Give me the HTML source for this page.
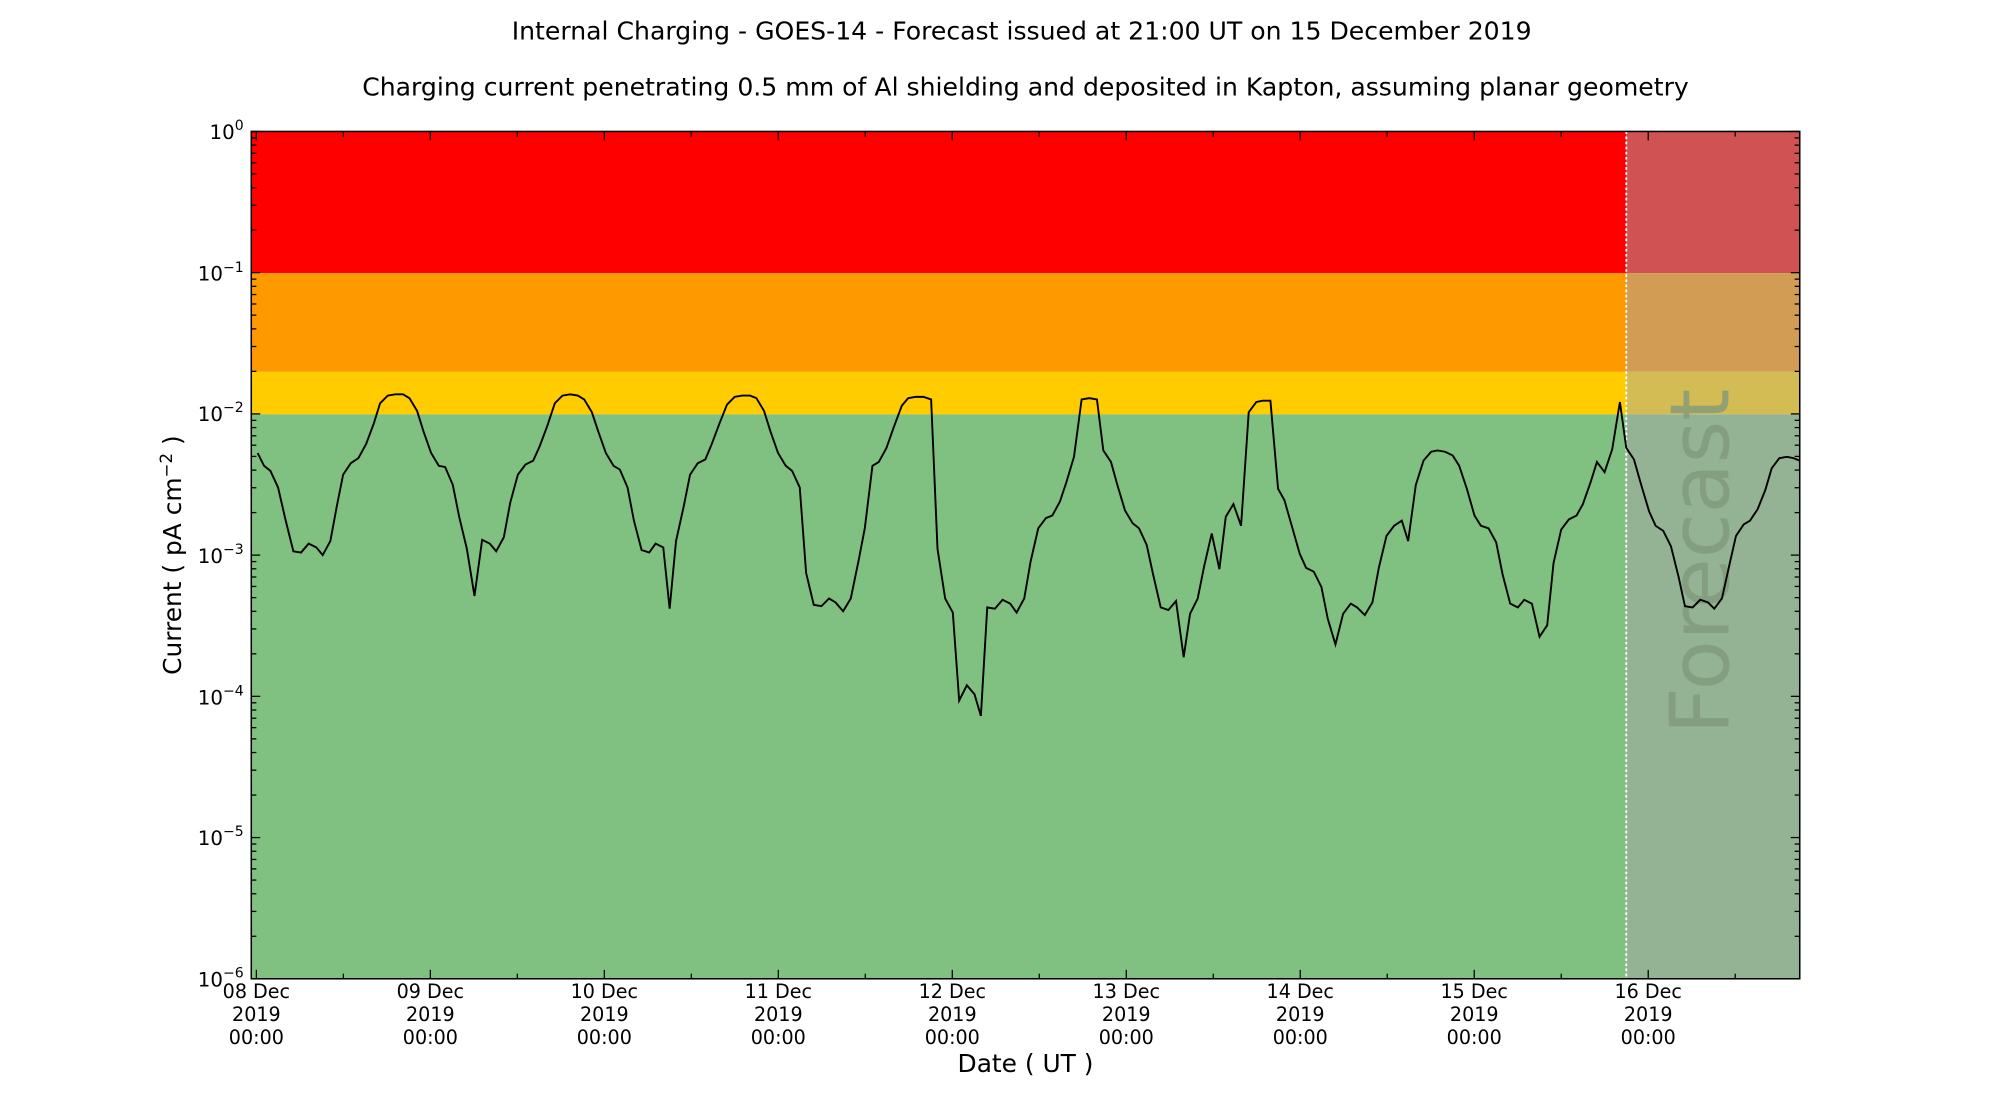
<!DOCTYPE html>
<html><head><meta charset="utf-8"><style>html,body{margin:0;padding:0;background:#fff}svg{display:block}</style></head><body>
<svg width="2000" height="1100" viewBox="0 0 1568 862" preserveAspectRatio="none" xmlns="http://www.w3.org/2000/svg" font-family="'DejaVu Sans','Liberation Sans',sans-serif">
<rect x="0" y="0" width="1568" height="862" fill="#fff"/>
<text x="801" y="31" font-size="19.7" text-anchor="middle">Internal Charging - GOES-14 - Forecast issued at 21:00 UT on 15 December 2019</text>
<text x="804" y="75" font-size="19.7" text-anchor="middle">Charging current penetrating 0.5 mm of Al shielding and deposited in Kapton, assuming planar geometry</text>
<rect x="197" y="103" width="1078" height="111" fill="#ff0000"/>
<rect x="197" y="214" width="1078" height="77.4" fill="#ff9900"/>
<rect x="197" y="291.4" width="1078" height="33.3" fill="#ffcc00"/>
<rect x="197" y="324.7" width="1078" height="442.3" fill="#80c080"/>
<rect x="1275" y="103" width="136" height="111" fill="#d05252"/>
<rect x="1275" y="214" width="136" height="77.4" fill="#d29c55"/>
<rect x="1275" y="291.4" width="136" height="33.3" fill="#d4bc55"/>
<rect x="1275" y="324.7" width="136" height="442.3" fill="#94b294"/>
<text transform="translate(1355,440) rotate(-90)" font-size="64" fill="#7f9a7a" fill-opacity="0.8" text-anchor="middle">Forecast</text>
<line x1="1275" y1="103" x2="1275" y2="767" stroke="#fff" stroke-width="1.5" stroke-dasharray="2,2"/>
<polyline fill="none" stroke="#000" stroke-width="1.5" points="202,355 207,365 212,369 218,382 224,408 230,432 236,433 242,426 248,429 253,435 259,424 264,397 269,372 275,363 281,359 287,348 293,332 298,316 304,310 310,309 316,309 321,312 327,322 332,338 338,355 344,365 349,366 355,380 360,405 366,430 372,467 378,423 384,426 389,432 395,421 400,394 406,372 412,364 418,361 423,350 429,334 435,316 441,310 447,309 453,310 458,313 464,323 469,338 475,355 481,365 486,368 492,382 497,408 503,431 509,433 514,426 520,429 525,477 530,424 536,397 541,372 547,363 553,360 558,348 564,332 570,317 576,311 582,310 588,310 593,312 599,322 604,338 610,355 616,365 621,369 627,382 632,449 638,474 644,475 650,469 655,472 661,479 667,469 673,440 678,414 684,365 689,362 695,351 701,334 707,318 712,312 718,311 724,311 730,313 735,430 741,469 747,480 752,549 758,537 764,544 769,561 774,476 780,477 786,470 792,473 797,480 803,469 808,440 814,414 820,406 825,404 831,393 836,378 842,358 848,313 854,312 860,313 865,353 871,362 876,380 882,400 888,410 893,414 899,427 904,450 910,476 916,478 922,471 928,515 933,481 939,469 944,444 950,418 956,446 961,405 967,395 973,412 979,323 985,315 990,314 996,314 1002,383 1007,392 1013,413 1019,434 1024,445 1030,448 1036,460 1041,485 1047,505 1053,481 1059,473 1064,476 1070,482 1076,472 1081,445 1087,420 1093,412 1099,408 1104,424 1110,380 1116,361 1122,354 1127,353 1133,354 1139,357 1144,365 1150,383 1156,404 1161,412 1167,414 1173,425 1178,450 1184,473 1190,476 1195,470 1201,473 1207,499 1213,490 1218,441 1224,415 1230,407 1236,404 1241,395 1247,378 1252,362 1258,370 1264,352 1270,315 1275,351 1281,360 1287,381 1293,401 1298,412 1304,416 1310,428 1316,452 1321,475 1327,476 1333,470 1339,472 1344,477 1350,469 1356,442 1361,420 1367,411 1372,408 1378,399 1384,384 1389,367 1395,359 1401,358 1406,359 1411,361"/>
<rect x="197" y="103" width="1214" height="664" fill="none" stroke="#000" stroke-width="1.2"/>
<g id="ticks" stroke="#000" stroke-width="1"></g>
<g id="labels" font-size="15" text-anchor="middle"></g>
<g font-size="15.5" text-anchor="end">
<text x="191" y="109">10<tspan dy="-7" font-size="11">0</tspan></text>
<text x="191" y="220">10<tspan dy="-7" font-size="11">−1</tspan></text>
<text x="191" y="330">10<tspan dy="-7" font-size="11">−2</tspan></text>
<text x="191" y="441">10<tspan dy="-7" font-size="11">−3</tspan></text>
<text x="191" y="552">10<tspan dy="-7" font-size="11">−4</tspan></text>
<text x="191" y="662">10<tspan dy="-7" font-size="11">−5</tspan></text>
<text x="191" y="773">10<tspan dy="-7" font-size="11">−6</tspan></text>
</g>
<text x="804" y="840" font-size="19.5" text-anchor="middle">Date ( UT )</text>
<text transform="translate(142,435) rotate(-90)" font-size="19.5" text-anchor="middle">Current ( pA cm<tspan dy="-7" font-size="13">−2</tspan><tspan dy="7"> )</tspan></text>
<script>
var ns="http://www.w3.org/2000/svg",t=document.getElementById("ticks"),L=document.getElementById("labels");
function ln(a,b,c,d){var e=document.createElementNS(ns,"line");e.setAttribute("x1",a);e.setAttribute("y1",b);e.setAttribute("x2",c);e.setAttribute("y2",d);t.appendChild(e);}
function tx(x,y,s){var e=document.createElementNS(ns,"text");e.setAttribute("x",x);e.setAttribute("y",y);e.textContent=s;L.appendChild(e);}
var d=110.67;
for(var k=0;k<=6;k++){var y=103+k*d;ln(197,y,204,y);ln(1404,y,1411,y);
 if(k<6)for(var m=2;m<10;m++){var yy=103+(k+1)*d-Math.log10(m)*d;ln(197,yy,201,yy);ln(1407,yy,1411,yy);}}
var days=["08","09","10","11","12","13","14","15","16"];
for(var i=0;i<9;i++){var x=201+136.4*i;ln(x,767,x,760);ln(x,103,x,110);
 tx(x,782,days[i]+" Dec");tx(x,800,"2019");tx(x,818,"00:00");
 var xm=x+68.2;if(xm<1411){ln(xm,767,xm,763);ln(xm,103,xm,107);}}
</script>
</svg>
</body></html>
